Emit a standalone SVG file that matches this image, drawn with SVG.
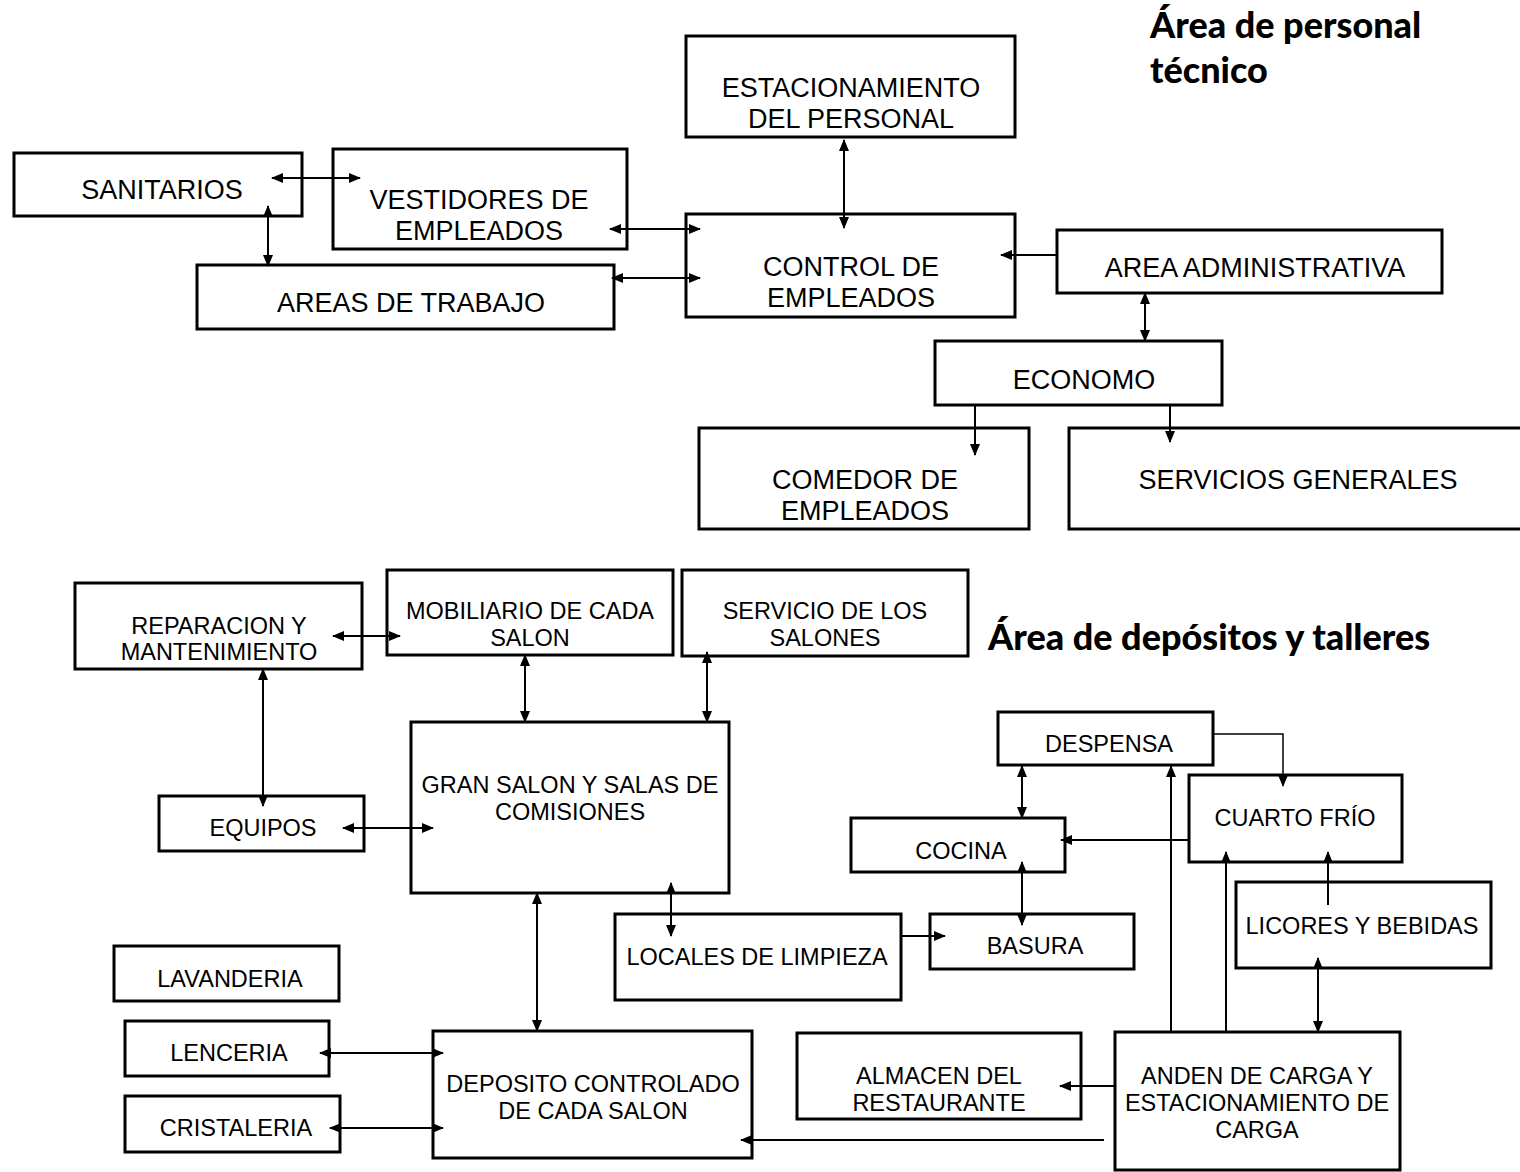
<svg xmlns="http://www.w3.org/2000/svg" width="1520" height="1172" viewBox="0 0 1520 1172">
<defs>
<marker id="ah" markerWidth="12" markerHeight="10" refX="11" refY="5" orient="auto-start-reverse" markerUnits="userSpaceOnUse">
<path d="M0,0 L12,5 L0,10 z" fill="#000"/>
</marker>
<style>
.b{fill:#fff;stroke:#000;stroke-width:3}
.t{font-family:"Liberation Sans",Arial,sans-serif;font-size:27px;text-anchor:middle;fill:#000}
.s{font-family:"Liberation Sans",Arial,sans-serif;font-size:23.5px;text-anchor:middle;fill:#000}
.h{font-family:Lato,"Open Sans",sans-serif;font-weight:900;font-size:36px;fill:#000}
.c{fill:none;stroke:#000;stroke-width:2}
.ba{marker-start:url(#ah);marker-end:url(#ah)}
.ea{marker-end:url(#ah)}
</style>
</defs>
<rect width="1520" height="1172" fill="#fff"/>
<text class="h" x="1150" y="38">Área de personal</text>
<text class="h" x="1150" y="83">técnico</text>
<text class="h" x="988" y="650">Área de depósitos y talleres</text>

<g id="sanitarios"><rect class="b" x="14" y="153" width="288" height="63"/><text class="t" x="162" y="199">SANITARIOS</text></g>
<g id="vestidores"><rect class="b" x="333" y="149" width="294" height="100"/><text class="t" x="479" y="209">VESTIDORES DE</text><text class="t" x="479" y="240">EMPLEADOS</text></g>
<g id="areas-trabajo"><rect class="b" x="197" y="265" width="417" height="64"/><text class="t" x="411" y="312">AREAS DE TRABAJO</text></g>
<g id="estacionamiento"><rect class="b" x="686" y="36" width="329" height="101"/><text class="t" x="851" y="97">ESTACIONAMIENTO</text><text class="t" x="851" y="128">DEL PERSONAL</text></g>
<g id="control"><rect class="b" x="686" y="214" width="329" height="103"/><text class="t" x="851" y="276">CONTROL DE</text><text class="t" x="851" y="307">EMPLEADOS</text></g>
<g id="area-admin"><rect class="b" x="1057" y="230" width="385" height="63"/><text class="t" x="1255" y="277">AREA ADMINISTRATIVA</text></g>
<g id="economo"><rect class="b" x="935" y="341" width="287" height="64"/><text class="t" x="1084" y="389">ECONOMO</text></g>
<g id="comedor"><rect class="b" x="699" y="428" width="330" height="101"/><text class="t" x="865" y="489">COMEDOR DE</text><text class="t" x="865" y="520">EMPLEADOS</text></g>
<g id="servicios"><rect class="b" x="1069" y="428" width="460" height="101"/><text class="t" x="1298" y="489">SERVICIOS GENERALES</text></g>

<g id="reparacion"><rect class="b" x="75" y="583" width="287" height="86"/><text class="s" x="219" y="634">REPARACION Y</text><text class="s" x="219" y="660">MANTENIMIENTO</text></g>
<g id="mobiliario"><rect class="b" x="387" y="570" width="286" height="85"/><text class="s" x="530" y="619">MOBILIARIO DE CADA</text><text class="s" x="530" y="646">SALON</text></g>
<g id="servicio-salones"><rect class="b" x="682" y="570" width="286" height="86"/><text class="s" x="825" y="619">SERVICIO DE LOS</text><text class="s" x="825" y="646">SALONES</text></g>
<g id="gran-salon"><rect class="b" x="411" y="722" width="318" height="171"/><text class="s" x="570" y="793">GRAN SALON Y SALAS DE</text><text class="s" x="570" y="820">COMISIONES</text></g>
<g id="equipos"><rect class="b" x="159" y="796" width="205" height="55"/><text class="s" x="263" y="836">EQUIPOS</text></g>
<g id="despensa"><rect class="b" x="998" y="712" width="215" height="53"/><text class="s" x="1109" y="752">DESPENSA</text></g>
<g id="cuarto-frio"><rect class="b" x="1189" y="775" width="213" height="87"/><text class="s" x="1295" y="826">CUARTO FRÍO</text></g>
<g id="cocina"><rect class="b" x="851" y="818" width="214" height="54"/><text class="s" x="961" y="859">COCINA</text></g>
<g id="licores"><rect class="b" x="1236" y="882" width="255" height="86"/><text class="s" x="1362" y="934">LICORES Y BEBIDAS</text></g>
<g id="locales-limpieza"><rect class="b" x="615" y="914" width="286" height="86"/><text class="s" x="757" y="965">LOCALES DE LIMPIEZA</text></g>
<g id="basura"><rect class="b" x="930" y="914" width="204" height="55"/><text class="s" x="1035" y="954">BASURA</text></g>
<g id="lavanderia"><rect class="b" x="114" y="946" width="225" height="55"/><text class="s" x="230" y="987">LAVANDERIA</text></g>
<g id="lenceria"><rect class="b" x="125" y="1021" width="204" height="55"/><text class="s" x="229" y="1061">LENCERIA</text></g>
<g id="cristaleria"><rect class="b" x="125" y="1096" width="215" height="56"/><text class="s" x="236" y="1136">CRISTALERIA</text></g>
<g id="deposito"><rect class="b" x="433" y="1031" width="319" height="127"/><text class="s" x="593" y="1092">DEPOSITO CONTROLADO</text><text class="s" x="593" y="1119">DE CADA SALON</text></g>
<g id="almacen"><rect class="b" x="797" y="1033" width="284" height="86"/><text class="s" x="939" y="1084">ALMACEN DEL</text><text class="s" x="939" y="1111">RESTAURANTE</text></g>
<g id="anden"><rect class="b" x="1115" y="1032" width="285" height="138"/><text class="s" x="1257" y="1084">ANDEN DE CARGA Y</text><text class="s" x="1257" y="1111">ESTACIONAMIENTO DE</text><text class="s" x="1257" y="1138">CARGA</text></g>

<g id="connectors">
<line class="c ba" x1="272" y1="178" x2="360" y2="178"/>
<line class="c ba" x1="268" y1="206" x2="268" y2="266"/>
<line class="c ba" x1="610" y1="229" x2="700" y2="229"/>
<line class="c ba" x1="612" y1="278" x2="700" y2="278"/>
<line class="c ba" x1="844" y1="140" x2="844" y2="228"/>
<line class="c ea" x1="1057" y1="255" x2="1001" y2="255"/>
<line class="c ba" x1="1145" y1="293" x2="1145" y2="341"/>
<line class="c ea" x1="975" y1="405" x2="975" y2="455"/>
<line class="c ea" x1="1170" y1="405" x2="1170" y2="442"/>
<line class="c ba" x1="333" y1="636" x2="400" y2="636"/>
<line class="c ba" x1="263" y1="669" x2="263" y2="806"/>
<line class="c ba" x1="343" y1="828" x2="433" y2="828"/>
<line class="c ba" x1="525" y1="655" x2="525" y2="722"/>
<line class="c ba" x1="707" y1="652" x2="707" y2="722"/>
<line class="c ba" x1="671" y1="883" x2="671" y2="936"/>
<line class="c ba" x1="537" y1="893" x2="537" y2="1031"/>
<line class="c ea" x1="901" y1="936" x2="945" y2="936"/>
<line class="c ba" x1="1022" y1="766" x2="1022" y2="818"/>
<line class="c ba" x1="1022" y1="862" x2="1022" y2="925"/>
<line class="c ea" x1="1189" y1="840" x2="1061" y2="840"/>
<polyline class="c ea" style="stroke-width:1.5" points="1213,734 1283,734 1283,786"/>
<line class="c ea" x1="1171" y1="1032" x2="1171" y2="766"/>
<line class="c ea" x1="1226" y1="1032" x2="1226" y2="852"/>
<line class="c ea" x1="1328" y1="905" x2="1328" y2="852"/>
<line class="c ba" x1="1318" y1="958" x2="1318" y2="1032"/>
<line class="c ea" x1="1115" y1="1086" x2="1060" y2="1086"/>
<line class="c ea" x1="1104" y1="1140" x2="741" y2="1140"/>
<line class="c ba" x1="320" y1="1053" x2="443" y2="1053"/>
<line class="c ba" x1="330" y1="1128" x2="443" y2="1128"/>
</g>
</svg>
